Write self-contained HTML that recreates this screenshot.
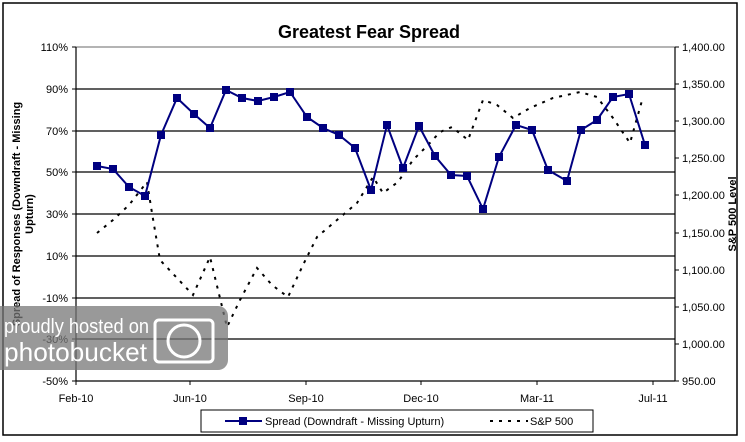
<!DOCTYPE html>
<html><head><meta charset="utf-8"><style>
body{margin:0;background:#fff;width:745px;height:437px;overflow:hidden;font-family:"Liberation Sans",Arial,sans-serif}
</style></head><body>
<svg width="745" height="437" xmlns="http://www.w3.org/2000/svg" font-family="Liberation Sans, Arial, sans-serif">
<rect x="0" y="0" width="745" height="437" fill="#fff"/>
<rect x="3" y="3" width="734" height="432" fill="#fff" stroke="#000" stroke-width="1.5"/>
<text x="369" y="38" text-anchor="middle" font-size="18" font-weight="bold">Greatest Fear Spread</text>
<g stroke="#000" stroke-width="1.2">
<line x1="76" y1="47" x2="675" y2="47" stroke="#888"/>
<line x1="76" y1="89" x2="675" y2="89"/>
<line x1="76" y1="131" x2="675" y2="131"/>
<line x1="76" y1="172" x2="675" y2="172"/>
<line x1="76" y1="214" x2="675" y2="214"/>
<line x1="76" y1="256" x2="675" y2="256"/>
<line x1="76" y1="298" x2="675" y2="298"/>
<line x1="76" y1="339" x2="675" y2="339"/>
<line x1="76" y1="381" x2="675" y2="381"/>
<line x1="76" y1="47" x2="76" y2="381"/>
<line x1="675" y1="47" x2="675" y2="381"/>
</g>
<g stroke="#000" stroke-width="1">
<line x1="72" y1="47" x2="76" y2="47"/><line x1="72" y1="89" x2="76" y2="89"/><line x1="72" y1="131" x2="76" y2="131"/><line x1="72" y1="172" x2="76" y2="172"/><line x1="72" y1="214" x2="76" y2="214"/><line x1="72" y1="256" x2="76" y2="256"/><line x1="72" y1="298" x2="76" y2="298"/><line x1="72" y1="339" x2="76" y2="339"/><line x1="72" y1="381" x2="76" y2="381"/>
<line x1="675" y1="47" x2="679" y2="47"/><line x1="675" y1="84" x2="679" y2="84"/><line x1="675" y1="121" x2="679" y2="121"/><line x1="675" y1="158" x2="679" y2="158"/><line x1="675" y1="195" x2="679" y2="195"/><line x1="675" y1="233" x2="679" y2="233"/><line x1="675" y1="270" x2="679" y2="270"/><line x1="675" y1="307" x2="679" y2="307"/><line x1="675" y1="344" x2="679" y2="344"/><line x1="675" y1="381" x2="679" y2="381"/>
<line x1="76" y1="381" x2="76" y2="385"/><line x1="190" y1="381" x2="190" y2="385"/><line x1="306" y1="381" x2="306" y2="385"/><line x1="421" y1="381" x2="421" y2="385"/><line x1="537" y1="381" x2="537" y2="385"/><line x1="653" y1="381" x2="653" y2="385"/>
</g>
<g font-size="11" text-anchor="end">
<text x="68" y="51">110%</text><text x="68" y="93">90%</text><text x="68" y="135">70%</text><text x="68" y="176">50%</text><text x="68" y="218">30%</text><text x="68" y="260">10%</text><text x="68" y="302">-10%</text><text x="68" y="343">-30%</text><text x="68" y="385">-50%</text>
</g>
<g font-size="11">
<text x="682" y="51">1,400.00</text><text x="682" y="88">1,350.00</text><text x="682" y="125">1,300.00</text><text x="682" y="162">1,250.00</text><text x="682" y="199">1,200.00</text><text x="682" y="237">1,150.00</text><text x="682" y="274">1,100.00</text><text x="682" y="311">1,050.00</text><text x="682" y="348">1,000.00</text><text x="682" y="385">950.00</text>
</g>
<g font-size="11" text-anchor="middle">
<text x="76" y="402">Feb-10</text><text x="190" y="402">Jun-10</text><text x="306" y="402">Sep-10</text><text x="421" y="402">Dec-10</text><text x="537" y="402">Mar-11</text><text x="653" y="402">Jul-11</text>
</g>
<text transform="translate(20,214) rotate(-90)" text-anchor="middle" font-size="11" font-weight="bold">Spread of Responses (Downdraft - Missing</text>
<text transform="translate(33,214) rotate(-90)" text-anchor="middle" font-size="11" font-weight="bold">Upturn)</text>
<text transform="translate(736,214) rotate(-90)" text-anchor="middle" font-size="11" font-weight="bold">S&amp;P 500 Level</text>
<polyline fill="none" stroke="#000" stroke-width="2" stroke-dasharray="3,6" points="97,233 113,220 129,205 147,182 152,213 160,260 177,278 193,295 210,257 227,327 240,300 257,268 272,285 288,297 303,265 317,237 337,220 357,203 373,177 383,193 398,182 413,160 428,145 440,132 452,127 468,140 483,100 497,105 513,118 530,108 553,98 580,92 597,97 613,118 630,143 643,97"/>
<polyline fill="none" stroke="#000080" stroke-width="2" points="97,166 113,169 129,187 145,196 161,135 177,98 194,114 210,128 226,90 242,98 258,101 274,97 290,92 307,117 323,128 339,135 355,148 371,190 387,125 403,168 419,126 435,156 451,175 467,176 483,209 499,157 516,125 532,130 548,170 567,181 581,130 597,120 613,97 629,94 645,145"/>
<g fill="#000080">
<rect x="93" y="162" width="8" height="8"/><rect x="109" y="165" width="8" height="8"/><rect x="125" y="183" width="8" height="8"/><rect x="141" y="192" width="8" height="8"/><rect x="157" y="131" width="8" height="8"/><rect x="173" y="94" width="8" height="8"/><rect x="190" y="110" width="8" height="8"/><rect x="206" y="124" width="8" height="8"/><rect x="222" y="86" width="8" height="8"/><rect x="238" y="94" width="8" height="8"/><rect x="254" y="97" width="8" height="8"/><rect x="270" y="93" width="8" height="8"/><rect x="286" y="88" width="8" height="8"/><rect x="303" y="113" width="8" height="8"/><rect x="319" y="124" width="8" height="8"/><rect x="335" y="131" width="8" height="8"/><rect x="351" y="144" width="8" height="8"/><rect x="367" y="186" width="8" height="8"/><rect x="383" y="121" width="8" height="8"/><rect x="399" y="164" width="8" height="8"/><rect x="415" y="122" width="8" height="8"/><rect x="431" y="152" width="8" height="8"/><rect x="447" y="171" width="8" height="8"/><rect x="463" y="172" width="8" height="8"/><rect x="479" y="205" width="8" height="8"/><rect x="495" y="153" width="8" height="8"/><rect x="512" y="121" width="8" height="8"/><rect x="528" y="126" width="8" height="8"/><rect x="544" y="166" width="8" height="8"/><rect x="563" y="177" width="8" height="8"/><rect x="577" y="126" width="8" height="8"/><rect x="593" y="116" width="8" height="8"/><rect x="609" y="93" width="8" height="8"/><rect x="625" y="90" width="8" height="8"/><rect x="641" y="141" width="8" height="8"/>
</g>
<rect x="-10" y="306" width="238" height="64" rx="10" fill="#777" opacity="0.75"/>
<text x="4" y="333" font-size="20" fill="#fff" textLength="145" lengthAdjust="spacingAndGlyphs">proudly hosted on</text>
<text x="4" y="361" font-size="26" fill="#fff" textLength="143" lengthAdjust="spacingAndGlyphs">photobucket</text>
<rect x="155" y="320" width="58" height="42" rx="4" fill="none" stroke="#fff" stroke-width="3"/>
<circle cx="184" cy="341" r="16" fill="none" stroke="#fff" stroke-width="3"/>
<rect x="201" y="410" width="392" height="22" fill="#fff" stroke="#000" stroke-width="1"/>
<line x1="225" y1="421" x2="262" y2="421" stroke="#000080" stroke-width="2"/>
<rect x="239" y="417" width="8" height="8" fill="#000080"/>
<text x="265" y="425" font-size="11">Spread (Downdraft - Missing Upturn)</text>
<line x1="490" y1="421" x2="528" y2="421" stroke="#000" stroke-width="2" stroke-dasharray="3,6"/>
<text x="530" y="425" font-size="11">S&amp;P 500</text>
</svg>
</body></html>
